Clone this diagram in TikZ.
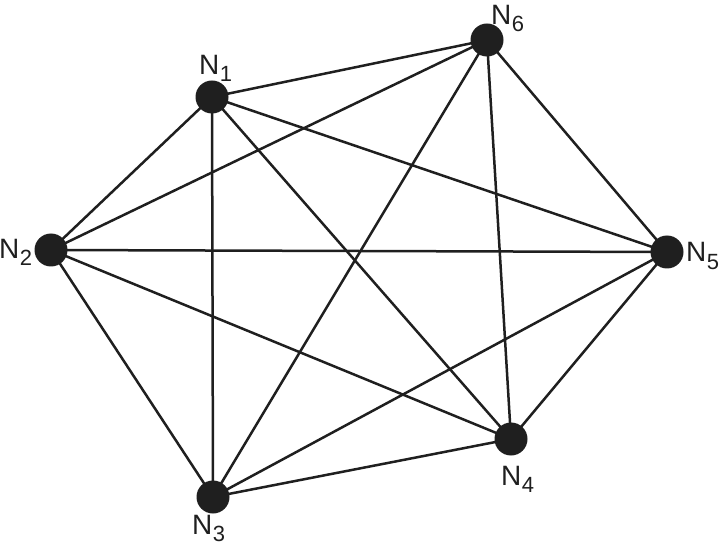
\documentclass[tikz,border=0pt]{standalone}
\usepackage{fontspec}
\setmainfont{Liberation Sans}
\usetikzlibrary{backgrounds}
\newcommand{\lbl}[1]{N\kern0.5pt\raisebox{-7pt}{\fontsize{22}{22}\selectfont #1}}
\begin{document}
\begin{tikzpicture}[x=1pt,y=-1pt,
  dot/.style={circle,fill=black!88,inner sep=0pt,minimum size=33pt},
  edge/.style={draw=black!88,line width=2.5pt},
  lab/.style={inner sep=0pt,anchor=base west,font=\fontsize{28}{30}\selectfont,text=black!88}]
\useasboundingbox (0,0) rectangle (720,545);
\node[dot] (n1) at (212,97) {};
\node[dot] (n2) at (51,250) {};
\node[dot] (n3) at (213,497) {};
\node[dot] (n4) at (511,439) {};
\node[dot] (n5) at (667,252) {};
\node[dot] (n6) at (487,40) {};
\begin{scope}[on background layer]
\foreach \a/\b in {n1/n2,n1/n3,n1/n4,n1/n5,n1/n6,n2/n3,n2/n4,n2/n5,n2/n6,n3/n4,n3/n5,n3/n6,n4/n5,n4/n6,n5/n6}
  \draw[edge] (\a.center) -- (\b.center);
\end{scope}
\node[lab] (l1) at (199,75) {\lbl{1}};
\node[lab] (l6) at (491,25) {\lbl{6}};
\node[lab] (l2) at (-1,259) {\lbl{2}};
\node[lab] (l5) at (686,262) {\lbl{5}};
\node[lab] (l3) at (192,534) {\lbl{3}};
\node[lab] (l4) at (501,485) {\lbl{4}};
\end{tikzpicture}
\end{document}
